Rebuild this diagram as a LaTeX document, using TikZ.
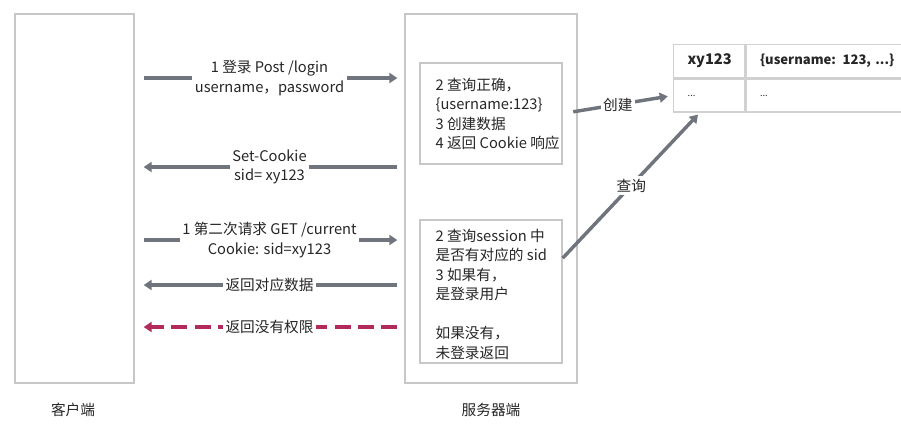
\documentclass[tikz,border=0pt]{standalone}
\usepackage{fontspec}
\setmainfont{Noto Sans CJK SC}
\usetikzlibrary{arrows.meta}
\definecolor{arrowgray}{RGB}{112,116,124}
\definecolor{denyred}{RGB}{178,42,92}

\begin{document}
\begin{tikzpicture}[x=0.75pt,y=-0.75pt,
  font=\fontsize{11}{14.6}\selectfont, text=black!85,
  lane/.style={draw=black!22, line width=1pt, inner sep=0pt, minimum height=276.75pt},
  inbox/.style={draw=black!22, line width=1pt, inner sep=0pt, minimum width=106.5pt},
  note/.style={anchor=north west, inner sep=0pt, align=left},
  msg/.style={draw=arrowgray, line width=2.6pt, -{Triangle[length=6pt,width=7.5pt]}},
  deny/.style={msg, draw=denyred, dash pattern=on 12pt off 5.5pt},
  lbl/.style={fill=white, inner sep=2pt, align=center},
  cell/.style={draw=black!18, line width=1pt, anchor=north west, align=left, inner xsep=10.5pt, inner ysep=0pt, minimum height=24.75pt}]
\useasboundingbox (0,0) rectangle (901,437);

% client and server
\node[lane, minimum width=89.25pt] (client) at (74.5,198.5) {};
\node[lane, minimum width=129pt] (server) at (491,198.5) {};
\node (clientlbl) at (73,410) {客户端};
\node (serverlbl) at (491,410) {服务器端};

% server steps
\node[inbox, minimum height=75.75pt] (check) at (491,113.5) {};
\node[note] (checktxt) at ([xshift=12pt,yshift=-11.5pt]check.north west)
  {2 查询正确，\\\{username:123\}\\3 创建数据\\4 返回 Cookie 响应};
\node[inbox, minimum height=107.25pt] (query) at (491,291.5) {};
\node[note] (querytxt) at ([xshift=12pt,yshift=-7pt]query.north west)
  {2 查询session 中\\是否有对应的 sid\\3 如果有，\\是登录用户\\[14.6pt]如果没有，\\未登录返回};

% session table
\node[cell, text width=32.25pt] (cell11) at (673,44) {\textbf{xy123}};
\node[cell, text width=140pt, font=\fontsize{9.8}{12}\selectfont] (cell12) at (cell11.north east) {\textbf{\{username: 123, ...\}}};
\node[cell, text width=32.25pt] (cell21) at (cell11.south west) {\scriptsize ...};
\node[cell, text width=140pt] (cell22) at (cell21.north east) {\scriptsize ...};

% requests
\draw[msg, shorten <=6.75pt, shorten >=5.25pt] (client.east |- 0,78) -- node[lbl] (login) {1 登录 Post /login\\username，password} (server.west |- 0,78);
\draw[msg, shorten <=5.25pt, shorten >=6.75pt] (server.west |- 0,167) -- node[lbl] (setcookie) {Set-Cookie\\sid= xy123} (client.east |- 0,167);
\draw[msg, shorten <=6.75pt, shorten >=5.25pt] (client.east |- 0,240) -- node[lbl] (current) {1 第二次请求 GET /current\\Cookie: sid=xy123} (server.west |- 0,240);
\draw[msg, shorten <=5.25pt, shorten >=6.75pt] (server.west |- 0,285) -- node[lbl] (data) {返回对应数据} (client.east |- 0,285);
\draw[deny, shorten <=5.25pt, shorten >=6.75pt] (server.west |- 0,327) -- node[lbl] (noauth) {返回没有权限} (client.east |- 0,327);

% session store
\draw[msg, shorten <=8pt, shorten >=4pt] (check.east) -- node[lbl] (create) {创建} (cell21.west);
\draw[msg, shorten >=2pt] ([yshift=25pt]query.east) -- node[lbl] (lookup) {查询} ([xshift=-7pt]cell21.south);
\end{tikzpicture}
\end{document}
